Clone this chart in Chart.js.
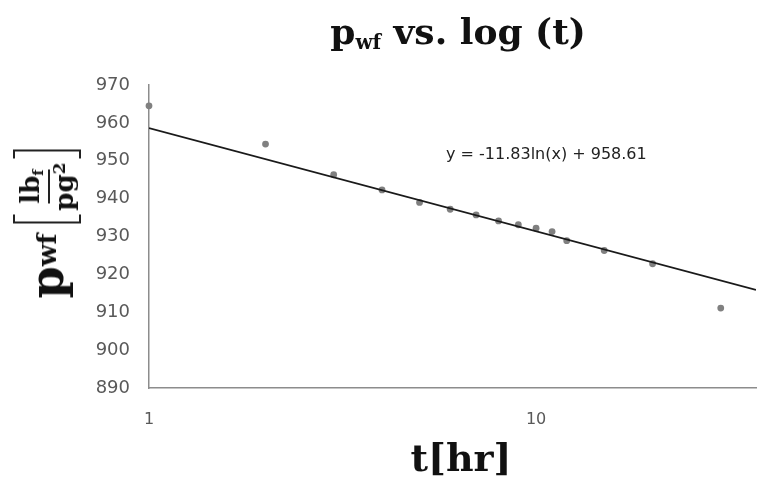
<!DOCTYPE html>
<html>
<head>
<meta charset="utf-8">
<script src="https://cdn.jsdelivr.net/npm/chart.js@4.4.1/dist/chart.umd.min.js"></script>
<style>
  html, body { margin: 0; padding: 0; background: #fff; }
  #wrap { position: relative; width: 760px; height: 481px; overflow: hidden; }
  #wrap canvas { position: absolute; left: 0; top: 0; }
  .lbl { position: absolute; white-space: nowrap; color: #111; font-family: 'DejaVu Serif', serif; font-weight: bold; }
  .lbl sub { font-size: 0.55em; vertical-align: -0.25em; }
  #title { left: 458px; top: 32px; transform: translate(-50%, -50%); font-size: 36px; }
  #xlabel { left: 461px; top: 457px; transform: translate(-50%, -50%); font-size: 38px; }
  #ylabel { left: 47px; top: 224px; transform: translate(-50%, -50%) rotate(-90deg);
            font-size: 46px; display: flex; align-items: center; }
  .frac { display: inline-flex; align-items: center; margin-left: 10px; }
  .br { display: inline-block; width: 7px; height: 64px; border: 2px solid #222; }
  .br.l { border-right: none; }
  .br.r { border-left: none; }
  .stack { display: inline-flex; flex-direction: column; align-items: center; font-size: 26px; line-height: 1; padding: 0 4px; }
  .stack .num { padding-bottom: 3px; border-bottom: 2px solid #222; }
  .stack .den { padding-top: 1px; }
  .stack sup { font-size: 0.65em; vertical-align: 0.5em; }
</style>
</head>
<body>
<div id="wrap">
  <canvas id="chart" width="760" height="481"></canvas>
  <div id="title" class="lbl">p<sub>wf</sub> vs. log (t)</div>
  <div id="xlabel" class="lbl">t[hr]</div>
  <div id="ylabel" class="lbl">p<sub>wf</sub><span class="frac"><span class="br l"></span><span class="stack"><span class="num">lb<sub>f</sub></span><span class="den">pg<sup>2</sup></span></span><span class="br r"></span></span></div>
</div>
<script>
// measured flowing pressure against time
const hours = [1, 2, 3, 4, 5, 6, 7, 8, 9, 10, 11, 12, 15, 20, 30];
const pressure = [964.5, 954.4, 946.3, 942.3, 939.0, 937.2, 935.7, 934.1, 933.1, 932.2, 931.3, 928.9, 926.3, 922.8, 911.1];

// log trendline y = a ln(x) + b
const trendA = -11.83;
const trendB = 958.61;
const trendX = [1, 37];

const xMin = 1, xMax = 37;
const yMin = 890, yMax = 970, yStep = 10;
const xTickLabels = [1, 10];

const tickColor = '#595959';
const axisColor = '#8c8c8c';

const ctx = document.getElementById('chart');

new Chart(ctx, {
  type: 'scatter',
  data: {
    datasets: [
      {
        label: 'pwf',
        data: hours.map((h, i) => ({ x: h, y: pressure[i] })),
        pointRadius: 3.4,
        pointBackgroundColor: '#808080',
        pointBorderWidth: 0,
        clip: false,
        order: 2
      },
      {
        label: 'trend',
        type: 'line',
        data: trendX.map(x => ({ x: x, y: trendA * Math.log(x) + trendB })),
        borderColor: '#1a1a1a',
        borderWidth: 1.6,
        pointRadius: 0,
        fill: false,
        order: 1
      }
    ]
  },
  options: {
    responsive: false,
    animation: false,
    devicePixelRatio: 1,
    layout: { padding: { top: 85, right: 0, left: 0, bottom: 0 } },
    plugins: {
      legend: { display: false },
      tooltip: { enabled: false }
    },
    scales: {
      x: {
        type: 'logarithmic',
        min: xMin,
        max: xMax,
        grid: { display: false, drawTicks: false },
        border: { color: axisColor, width: 1.5 },
        ticks: {
          autoSkip: false,
          maxRotation: 0,
          padding: 22,
          color: tickColor,
          font: { family: 'DejaVu Sans', size: 16 },
          callback: v => xTickLabels.includes(v) ? String(v) : ''
        },
        afterFit: s => { s.height = 93; s.paddingRight = 0; s.paddingLeft = 0; }
      },
      y: {
        min: yMin,
        max: yMax,
        grid: { display: false, drawTicks: false },
        border: { color: axisColor, width: 1.5 },
        ticks: {
          stepSize: yStep,
          padding: 19,
          color: tickColor,
          font: { family: 'DejaVu Sans', size: 18 }
        },
        afterFit: s => { s.width = 149; }
      }
    }
  },
  plugins: [{
    id: 'trendText',
    afterDatasetsDraw(chart) {
      const c = chart.ctx;
      c.save();
      c.fillStyle = '#222';
      c.font = '16px "DejaVu Sans"';
      c.textBaseline = 'middle';
      c.fillText('y = -11.83ln(x) + 958.61', 446, 155);
      c.restore();
    }
  }]
});
</script>
</body>
</html>
